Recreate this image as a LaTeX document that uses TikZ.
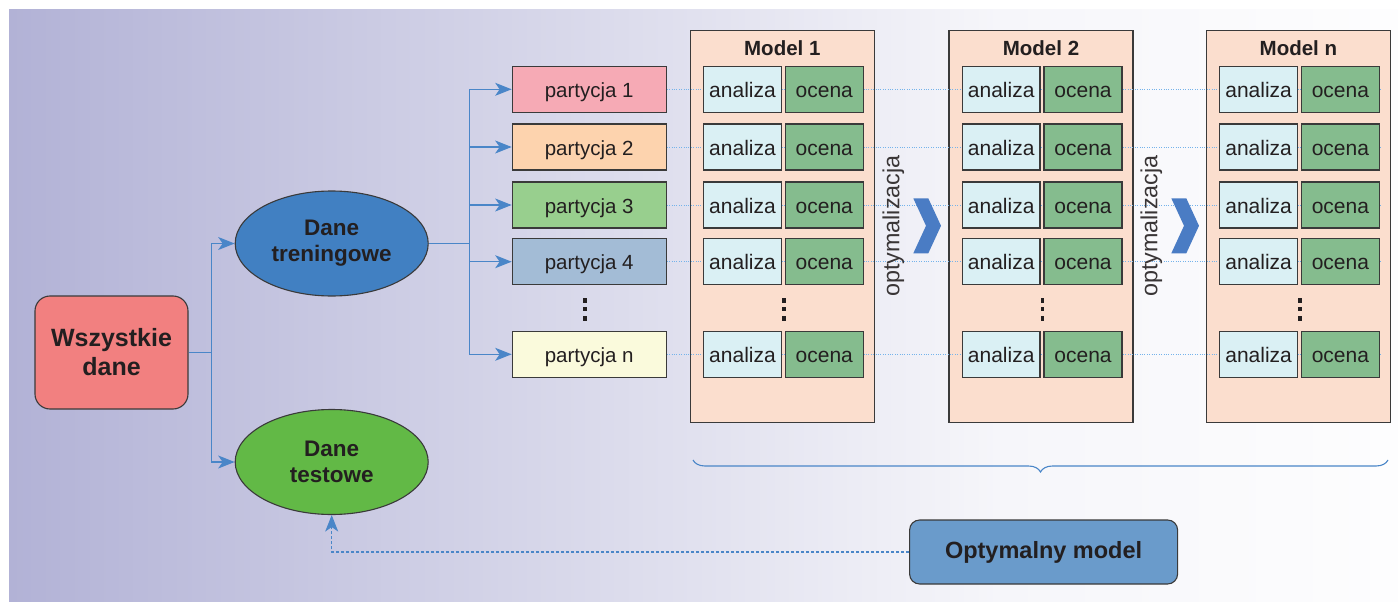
\documentclass[tikz,border=0pt]{standalone}
\usepackage{fontspec}
\setmainfont{Liberation Sans}
\usetikzlibrary{shapes.geometric,arrows.meta,decorations.pathreplacing,calc}
\definecolor{bgL}{HTML}{B2B2D6}
\definecolor{bgM}{HTML}{F6F6FA}
\definecolor{bgR}{HTML}{FDFDFE}
\definecolor{txt}{HTML}{231F20}
\definecolor{edge}{HTML}{3A3A3A}
\definecolor{conn}{HTML}{4A86C8}
\definecolor{dotc}{HTML}{74B3EB}
\definecolor{cWsz}{HTML}{F28080}
\definecolor{cTr}{HTML}{4180C2}
\definecolor{cTe}{HTML}{62B946}
\definecolor{cP1}{HTML}{F6AAB5}
\definecolor{cP2}{HTML}{FDD3AE}
\definecolor{cP3}{HTML}{98CF8E}
\definecolor{cP4}{HTML}{A3BCD6}
\definecolor{cPn}{HTML}{FAFADC}
\definecolor{cMod}{HTML}{FBDECE}
\definecolor{cAn}{HTML}{DAF0F4}
\definecolor{cOc}{HTML}{85BC8E}
\definecolor{cChev}{HTML}{4A7CC4}
\definecolor{cOpt}{HTML}{6A9BCB}
\pgfdeclarelayer{bg}\pgfdeclarelayer{mid}
\pgfsetlayers{bg,mid,main}
\begin{document}
\begin{tikzpicture}[x=1pt,y=-1pt,
  every node/.style={text=txt, inner sep=0pt},
  box/.style={draw=edge, line width=1.1pt},
  bigbold/.style={font=\fontsize{25}{29}\selectfont\bfseries, align=center},
  midbold/.style={font=\fontsize{22.5}{26}\selectfont\bfseries, align=center},
  ellnode/.style={box, ellipse, minimum width=193pt, minimum height=105pt, midbold},
  celltext/.style={font=\fontsize{21}{24}\selectfont, text height=20pt, text depth=4pt},
  partbox/.style={box, rectangle, minimum width=154pt, minimum height=46pt, celltext, font=\fontsize{20.5}{24}\selectfont},
  modelbox/.style={box, rectangle, fill=cMod, minimum width=184pt, minimum height=392pt},
  anbox/.style={box, rectangle, fill=cAn, minimum width=77.6pt, minimum height=46pt, celltext},
  ocbox/.style={box, rectangle, fill=cOc, minimum width=78pt, minimum height=46pt, celltext},
  line/.style={draw=conn, line width=1.1pt},
  arr/.style={line, -{Stealth[length=16.5pt,width=13pt,inset=4.5pt]}},
  dotline/.style={draw=dotc, line width=0.9pt, dash pattern=on 1pt off 1.4pt},
  optlabel/.style={rotate=90, font=\fontsize{23.3}{27}\selectfont, text=txt!90},
  chev/.style={fill=cChev},
  vdot/.style={fill=txt}
]
\useasboundingbox (0,0) rectangle (1398,602);
\begin{pgfonlayer}{bg}
  \shade[left color=bgL, right color=bgM] (9,10) rectangle (1000,602);
  \shade[left color=bgM, right color=bgR] (999.5,10) rectangle (1398,602);
  \foreach \m/\x/\t in {1/690.3/Model 1, 2/949/Model 2, 3/1206.4/Model n}{
    \node[modelbox] (M\m) at (\x+92,226.5) {};
    \node[font=\fontsize{20.5}{24}\selectfont\bfseries] (T\m) at (\x+92,47.7) {\t};
  }
\end{pgfonlayer}

% left part
\node[box, rectangle, rounded corners=15pt, fill=cWsz, minimum width=153pt, minimum height=113pt, bigbold] (wd) at (111.5,352.5) {Wszystkie\\dane};
\node[ellnode, fill=cTr] (tr) at (331.7,243.5) {Dane\\treningowe};
\node[ellnode, fill=cTe] (te) at (331.7,462) {Dane\\testowe};

% partitions
\node[partbox, fill=cP1] (p1) at (589.2,89.3) {partycja 1};
\node[partbox, fill=cP2] (p2) at (589.2,147) {partycja 2};
\node[partbox, fill=cP3] (p3) at (589.2,205) {partycja 3};
\node[partbox, fill=cP4] (p4) at (589.2,261.7) {partycja 4};
\node[partbox, fill=cPn] (p5) at (589.2,354.3) {partycja n};
\foreach \yy in {300.5,309,318.3}{
  \fill[vdot] (585.2-1.9,\yy-2.2) rectangle (585.2+1.9,\yy+2.2);
}

% connectors on the left
\coordinate (b1) at (211.3,352.5);
\coordinate (b2) at (469.3,243.5);
\draw[line] (wd.east) -- (b1);
\draw[arr] (b1) |- (tr.west);
\draw[arr] (b1) |- (te.west);
\draw[line] (tr.east) -- (b2);
\foreach \i in {1,...,5}{
  \draw[arr] (b2) |- (p\i.west);
}

% model cells
\foreach \m/\x in {1/690.3, 2/949, 3/1206.4}{
  \foreach \r/\yy in {1/89.3,2/147,3/205,4/261.7,5/354.3}{
    \node[anbox] (a\m\r) at (\x+52.2,\yy) {analiza};
    \node[ocbox] (o\m\r) at (\x+134,\yy) {ocena};
  }
  \foreach \yy in {300.5,309,318.3}{
    \fill[vdot] (\x+93.4-1.9,\yy-2.2) rectangle (\x+93.4+1.9,\yy+2.2);
  }
}

% dotted guide lines
\begin{pgfonlayer}{mid}
  \foreach \r in {1,...,5}{
    \draw[dotline] (p\r.east) -- (o3\r.east);
  }
\end{pgfonlayer}

% optimisation labels and chevrons
\node[optlabel] (opt1) at (893.3,226) {optymalizacja};
\node[optlabel] (opt2) at (1151.3,226) {optymalizacja};
\foreach \cx in {913.3,1171.3}{
  \fill[chev] (\cx,198.3) -- (\cx+15,198.3) -- (\cx+27.7,225.8) -- (\cx+15,253.3) -- (\cx,253.3) -- (\cx+12.7,225.8) -- cycle;
}

% brace
\coordinate (brL) at (693,460);
\coordinate (brR) at (1388,460);
\draw[line, decorate, decoration={brace, mirror, amplitude=12pt}] (brL) -- (brR);

% optimal model
\node[box, rectangle, rounded corners=10pt, fill=cOpt, minimum width=268pt, minimum height=64pt, font=\fontsize{23.5}{27}\selectfont\bfseries] (om) at (1043.6,552) {Optymalny model};
\draw[arr, dash pattern=on 3pt off 2pt] (om.west) -| (te.south);
\end{tikzpicture}
\end{document}
